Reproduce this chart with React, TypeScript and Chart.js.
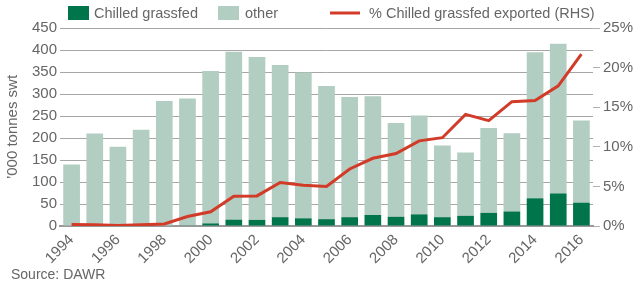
import { useEffect, useRef } from 'react';
import { Chart, registerables } from 'chart.js';

Chart.register(...registerables);

const years = ['1994','1995','1996','1997','1998','1999','2000','2001','2002','2003','2004','2005','2006','2007','2008','2009','2010','2011','2012','2013','2014','2015','2016'];
const chilled = [0, 0, 0, 0, 0, 1.5, 6, 14.5, 14, 20, 17.5, 15.5, 20, 25, 21, 26.5, 20, 23, 30, 33, 63, 74, 53];
const other = [140, 210, 180, 219, 284, 288.5, 346, 381.5, 370, 346, 331.5, 302.5, 273, 270, 213, 224.5, 163, 144, 193, 178, 332, 340, 187];
const pctExported = [0.2, 0.15, 0.05, 0.15, 0.25, 1.2, 1.8, 3.75, 3.8, 5.5, 5.15, 5.0, 7.2, 8.55, 9.15, 10.75, 11.15, 14.1, 13.3, 15.7, 15.85, 17.7, 21.7];

const legendLabels = ['Chilled grassfed', 'other', '% Chilled grassfed exported (RHS)'];
const yTitle = '\u2019000 tonnes swt';
const sourceText = 'Source: DAWR';

const DARK = '#00744b';
const LIGHT = '#b2cdc2';
const RED = '#d23b28';
const TEXT = '#666666';
const GRID = '#a6a6a6';
const FONT = "'Liberation Sans', Arial, Helvetica, sans-serif";

export default function App() {
  const ref = useRef<HTMLCanvasElement>(null);
  useEffect(() => {
    document.body.style.margin = '0';
    const canvas = ref.current;
    if (!canvas) return;

    const annotations = {
      id: 'customLegendAndSource',
      afterDraw(chart: any) {
        const ctx = chart.ctx as CanvasRenderingContext2D;
        ctx.save();
        ctx.font = `14.5px ${FONT}`;
        ctx.fillStyle = TEXT;
        ctx.textBaseline = 'middle';
        ctx.textAlign = 'left';
        // legend
        ctx.fillStyle = DARK;
        ctx.fillRect(68, 6, 21, 14);
        ctx.fillStyle = TEXT;
        ctx.fillText(legendLabels[0], 94, 13.5);
        ctx.fillStyle = LIGHT;
        ctx.fillRect(218, 6, 21, 14);
        ctx.fillStyle = TEXT;
        ctx.fillText(legendLabels[1], 245, 13.5);
        ctx.strokeStyle = RED;
        ctx.lineWidth = 3;
        ctx.beginPath();
        ctx.moveTo(330, 13);
        ctx.lineTo(360, 13);
        ctx.stroke();
        ctx.fillStyle = TEXT;
        ctx.fillText(legendLabels[2], 369, 13.5);
        // source
        ctx.font = `14px ${FONT}`;
        ctx.textBaseline = 'alphabetic';
        ctx.fillText(sourceText, 11, 279);
        ctx.restore();
      },
    };

    const chart = new Chart(canvas, {
      type: 'bar',
      data: {
        labels: years,
        datasets: [
          {
            type: 'line',
            label: legendLabels[2],
            data: pctExported,
            yAxisID: 'y2',
            borderColor: RED,
            backgroundColor: RED,
            borderWidth: 3,
            pointRadius: 0,
            tension: 0,
            order: 0,
          } as any,
          {
            label: legendLabels[0],
            data: chilled,
            backgroundColor: DARK,
            yAxisID: 'y',
            stack: 's',
            order: 1,
            categoryPercentage: 1,
            barPercentage: 0.72,
          },
          {
            label: legendLabels[1],
            data: other,
            backgroundColor: LIGHT,
            yAxisID: 'y',
            stack: 's',
            order: 2,
            categoryPercentage: 1,
            barPercentage: 0.72,
          },
        ],
      },
      options: {
        animation: false,
        responsive: false,
        devicePixelRatio: 1,
        layout: { padding: { top: 28, left: 0, right: 0, bottom: 0 } },
        plugins: {
          legend: { display: false },
          tooltip: { enabled: false },
          title: { display: false },
        },
        scales: {
          x: {
            stacked: true,
            grid: { display: false, drawTicks: false },
            border: { display: true, color: '#999999', width: 2 },
            ticks: {
              autoSkip: false,
              maxRotation: 45,
              minRotation: 45,
              padding: 5,
              color: TEXT,
              font: { size: 15, family: FONT },
              callback: (_v: any, i: number) => (i % 2 === 0 ? years[i] : ''),
            },
            afterFit: (s: any) => { s.height = 55; },
          },
          y: {
            type: 'linear',
            position: 'left',
            stacked: true,
            min: 0,
            max: 450,
            grid: { color: GRID, lineWidth: 1, drawTicks: false },
            border: { display: false },
            ticks: {
              stepSize: 50,
              padding: 3,
              color: TEXT,
              font: { size: 15, family: FONT },
            },
            title: {
              display: true,
              text: yTitle,
              color: TEXT,
              font: { size: 15, family: FONT },
              padding: { top: 4, bottom: 0 },
            },
            afterFit: (s: any) => { s.width = 60; },
          },
          y2: {
            type: 'linear',
            position: 'right',
            min: 0,
            max: 25,
            grid: { drawOnChartArea: false, drawTicks: true, tickLength: 7, color: '#b0b0b0' },
            border: { display: false },
            ticks: {
              stepSize: 5,
              padding: 3,
              color: TEXT,
              font: { size: 15, family: FONT },
              callback: (v: any) => `${v}%`,
            },
            afterFit: (s: any) => { s.width = 44; },
          },
        },
      },
      plugins: [annotations],
    });
    return () => chart.destroy();
  }, []);

  return <canvas ref={ref} width={637} height={281} style={{ display: 'block', width: 637, height: 281 }} />;
}
